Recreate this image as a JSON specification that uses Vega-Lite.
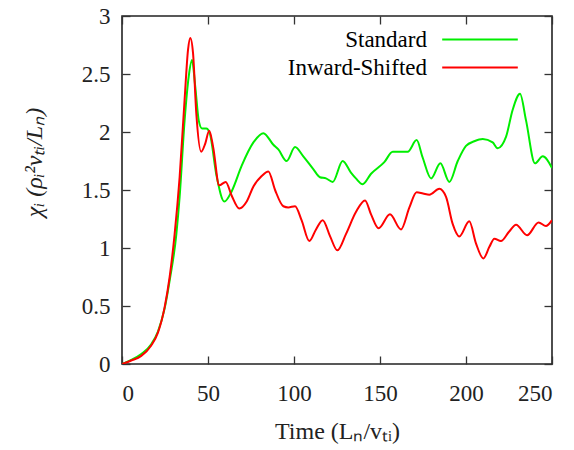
{
  "$schema": "https://vega.github.io/schema/vega-lite/v6.json",
  "width": 430,
  "height": 348,
  "autosize": {"type": "none"},
  "padding": {"left": 122, "top": 16, "right": 22, "bottom": 86},
  "background": "white",
  "config": {
    "view": {"stroke": "#222", "strokeWidth": 1.6},
    "font": "Liberation Serif",
    "axis": {"labelFont": "Liberation Serif", "titleFont": "Liberation Serif", "labelColor": "#222", "titleColor": "#222", "tickColor": "#333", "tickWidth": 1.3, "grid": false, "domain": false},
    "legend": {"labelFont": "Liberation Serif"}
  },
  "datasets": {
    "chi": [
      {"t": 0, "v": 0, "s": "Standard"},
      {"t": 5.4, "v": 0.035, "s": "Standard"},
      {"t": 11.2, "v": 0.085, "s": "Standard"},
      {"t": 17, "v": 0.17, "s": "Standard"},
      {"t": 20.9, "v": 0.28, "s": "Standard"},
      {"t": 24.8, "v": 0.48, "s": "Standard"},
      {"t": 27.7, "v": 0.72, "s": "Standard"},
      {"t": 31.6, "v": 1.12, "s": "Standard"},
      {"t": 33.5, "v": 1.44, "s": "Standard"},
      {"t": 36.4, "v": 2.1, "s": "Standard"},
      {"t": 38.8, "v": 2.48, "s": "Standard"},
      {"t": 40.7, "v": 2.62, "s": "Standard"},
      {"t": 42.6, "v": 2.39, "s": "Standard"},
      {"t": 44.6, "v": 2.1, "s": "Standard"},
      {"t": 46.5, "v": 2.03, "s": "Standard"},
      {"t": 49, "v": 2.03, "s": "Standard"},
      {"t": 51, "v": 1.99, "s": "Standard"},
      {"t": 55, "v": 1.62, "s": "Standard"},
      {"t": 59.5, "v": 1.4, "s": "Standard"},
      {"t": 63.8, "v": 1.49, "s": "Standard"},
      {"t": 69.6, "v": 1.71, "s": "Standard"},
      {"t": 76.4, "v": 1.91, "s": "Standard"},
      {"t": 82.2, "v": 1.99, "s": "Standard"},
      {"t": 88, "v": 1.89, "s": "Standard"},
      {"t": 90.9, "v": 1.85, "s": "Standard"},
      {"t": 95.7, "v": 1.75, "s": "Standard"},
      {"t": 100.6, "v": 1.87, "s": "Standard"},
      {"t": 105.4, "v": 1.79, "s": "Standard"},
      {"t": 111.2, "v": 1.68, "s": "Standard"},
      {"t": 115.1, "v": 1.61, "s": "Standard"},
      {"t": 118.6, "v": 1.6, "s": "Standard"},
      {"t": 122.5, "v": 1.57, "s": "Standard"},
      {"t": 128.3, "v": 1.75, "s": "Standard"},
      {"t": 133.1, "v": 1.65, "s": "Standard"},
      {"t": 136, "v": 1.6, "s": "Standard"},
      {"t": 139.9, "v": 1.55, "s": "Standard"},
      {"t": 144.8, "v": 1.64, "s": "Standard"},
      {"t": 152.5, "v": 1.74, "s": "Standard"},
      {"t": 157.4, "v": 1.83, "s": "Standard"},
      {"t": 166.1, "v": 1.83, "s": "Standard"},
      {"t": 171.3, "v": 1.93, "s": "Standard"},
      {"t": 174.8, "v": 1.78, "s": "Standard"},
      {"t": 179.7, "v": 1.6, "s": "Standard"},
      {"t": 185.1, "v": 1.73, "s": "Standard"},
      {"t": 190.3, "v": 1.57, "s": "Standard"},
      {"t": 195.2, "v": 1.75, "s": "Standard"},
      {"t": 200, "v": 1.88, "s": "Standard"},
      {"t": 204.8, "v": 1.92, "s": "Standard"},
      {"t": 209.7, "v": 1.94, "s": "Standard"},
      {"t": 215.5, "v": 1.91, "s": "Standard"},
      {"t": 218.4, "v": 1.86, "s": "Standard"},
      {"t": 223.3, "v": 1.96, "s": "Standard"},
      {"t": 227.1, "v": 2.19, "s": "Standard"},
      {"t": 231.4, "v": 2.33, "s": "Standard"},
      {"t": 234.9, "v": 2.1, "s": "Standard"},
      {"t": 240.1, "v": 1.73, "s": "Standard"},
      {"t": 244.6, "v": 1.79, "s": "Standard"},
      {"t": 250, "v": 1.69, "s": "Standard"},
      {"t": 0, "v": 0, "s": "Inward-Shifted"},
      {"t": 5.4, "v": 0.03, "s": "Inward-Shifted"},
      {"t": 11.2, "v": 0.07, "s": "Inward-Shifted"},
      {"t": 17, "v": 0.16, "s": "Inward-Shifted"},
      {"t": 20.9, "v": 0.27, "s": "Inward-Shifted"},
      {"t": 24.8, "v": 0.49, "s": "Inward-Shifted"},
      {"t": 27.7, "v": 0.75, "s": "Inward-Shifted"},
      {"t": 30.6, "v": 1.12, "s": "Inward-Shifted"},
      {"t": 33.5, "v": 1.61, "s": "Inward-Shifted"},
      {"t": 36.4, "v": 2.28, "s": "Inward-Shifted"},
      {"t": 38.4, "v": 2.71, "s": "Inward-Shifted"},
      {"t": 39.7, "v": 2.81, "s": "Inward-Shifted"},
      {"t": 41.3, "v": 2.68, "s": "Inward-Shifted"},
      {"t": 43.2, "v": 2.16, "s": "Inward-Shifted"},
      {"t": 46, "v": 1.83, "s": "Inward-Shifted"},
      {"t": 48.4, "v": 1.9, "s": "Inward-Shifted"},
      {"t": 50.7, "v": 2.01, "s": "Inward-Shifted"},
      {"t": 53, "v": 1.87, "s": "Inward-Shifted"},
      {"t": 56.5, "v": 1.54, "s": "Inward-Shifted"},
      {"t": 60.3, "v": 1.57, "s": "Inward-Shifted"},
      {"t": 63.8, "v": 1.45, "s": "Inward-Shifted"},
      {"t": 68.2, "v": 1.34, "s": "Inward-Shifted"},
      {"t": 72.5, "v": 1.4, "s": "Inward-Shifted"},
      {"t": 76.4, "v": 1.53, "s": "Inward-Shifted"},
      {"t": 81.2, "v": 1.62, "s": "Inward-Shifted"},
      {"t": 85.1, "v": 1.66, "s": "Inward-Shifted"},
      {"t": 89, "v": 1.5, "s": "Inward-Shifted"},
      {"t": 93.8, "v": 1.36, "s": "Inward-Shifted"},
      {"t": 96.7, "v": 1.35, "s": "Inward-Shifted"},
      {"t": 100.6, "v": 1.36, "s": "Inward-Shifted"},
      {"t": 104.4, "v": 1.24, "s": "Inward-Shifted"},
      {"t": 108.9, "v": 1.06, "s": "Inward-Shifted"},
      {"t": 112.8, "v": 1.16, "s": "Inward-Shifted"},
      {"t": 116.7, "v": 1.24, "s": "Inward-Shifted"},
      {"t": 121, "v": 1.1, "s": "Inward-Shifted"},
      {"t": 125.2, "v": 0.98, "s": "Inward-Shifted"},
      {"t": 130.2, "v": 1.12, "s": "Inward-Shifted"},
      {"t": 136, "v": 1.31, "s": "Inward-Shifted"},
      {"t": 141.3, "v": 1.41, "s": "Inward-Shifted"},
      {"t": 144.8, "v": 1.29, "s": "Inward-Shifted"},
      {"t": 149.2, "v": 1.17, "s": "Inward-Shifted"},
      {"t": 155.8, "v": 1.29, "s": "Inward-Shifted"},
      {"t": 162.2, "v": 1.16, "s": "Inward-Shifted"},
      {"t": 167.1, "v": 1.35, "s": "Inward-Shifted"},
      {"t": 171.3, "v": 1.48, "s": "Inward-Shifted"},
      {"t": 175, "v": 1.47, "s": "Inward-Shifted"},
      {"t": 178.7, "v": 1.46, "s": "Inward-Shifted"},
      {"t": 184.5, "v": 1.51, "s": "Inward-Shifted"},
      {"t": 188.4, "v": 1.44, "s": "Inward-Shifted"},
      {"t": 192.2, "v": 1.21, "s": "Inward-Shifted"},
      {"t": 196.1, "v": 1.1, "s": "Inward-Shifted"},
      {"t": 201.9, "v": 1.23, "s": "Inward-Shifted"},
      {"t": 205.8, "v": 1.04, "s": "Inward-Shifted"},
      {"t": 210.1, "v": 0.91, "s": "Inward-Shifted"},
      {"t": 213.6, "v": 1.01, "s": "Inward-Shifted"},
      {"t": 216.5, "v": 1.08, "s": "Inward-Shifted"},
      {"t": 220.3, "v": 1.06, "s": "Inward-Shifted"},
      {"t": 225, "v": 1.14, "s": "Inward-Shifted"},
      {"t": 229.1, "v": 1.2, "s": "Inward-Shifted"},
      {"t": 235.5, "v": 1.11, "s": "Inward-Shifted"},
      {"t": 242.2, "v": 1.22, "s": "Inward-Shifted"},
      {"t": 246.5, "v": 1.19, "s": "Inward-Shifted"},
      {"t": 250, "v": 1.24, "s": "Inward-Shifted"}
    ]
  },
  "data": {"name": "chi"},
  "resolve": {"axis": {"x": "independent", "y": "independent"}},
  "layer": [
    {
      "mark": {"type": "line", "opacity": 0},
      "encoding": {
        "x": {"field": "t", "type": "quantitative", "scale": {"domain": [0, 250], "nice": false},
          "axis": {"orient": "top", "values": [0, 50, 100, 150, 200, 250], "labels": false, "title": null, "tickSize": -8}},
        "y": {"field": "v", "type": "quantitative", "scale": {"domain": [0, 3], "nice": false},
          "axis": {"orient": "right", "values": [0, 0.5, 1, 1.5, 2, 2.5, 3], "labels": false, "title": null, "tickSize": -8}}
      }
    },
    {
      "mark": {"type": "line", "interpolate": "monotone", "strokeWidth": 2, "clip": true},
      "encoding": {
        "x": {"field": "t", "type": "quantitative", "scale": {"domain": [0, 250], "nice": false},
          "axis": {"orient": "bottom", "values": [0, 50, 100, 150, 200, 250], "tickSize": -8, "labelPadding": 26, "labelFontSize": 23,
            "title": "Time (Lₙ/vₜᵢ)", "titleFontSize": 24, "titleFontWeight": "normal", "titlePadding": 14}},
        "y": {"field": "v", "type": "quantitative", "scale": {"domain": [0, 3], "nice": false},
          "axis": {"orient": "left", "values": [0, 0.5, 1, 1.5, 2, 2.5, 3], "format": "~g", "tickSize": -8, "labelPadding": 20, "labelFontSize": 23,
            "title": "χᵢ (ρᵢ²vₜᵢ/Lₙ)", "titleFontSize": 24, "titleFontWeight": "normal", "titleFontStyle": "italic", "titlePadding": 35, "titleY": 146}},
        "color": {"field": "s", "type": "nominal", "sort": ["Standard", "Inward-Shifted"],
          "scale": {"domain": ["Standard", "Inward-Shifted"], "range": ["#00ee00", "#ff0000"]},
          "legend": {"orient": "none", "legendX": 343.5, "legendY": 9, "title": null, "symbolType": "M-2.8,0H2.8", "symbolSize": 729,
            "symbolStrokeWidth": 2, "labelFontSize": 23, "labelAlign": "right", "labelOffset": -67.5,
            "rowPadding": 1, "padding": 0}}
      }
    }
  ]
}
